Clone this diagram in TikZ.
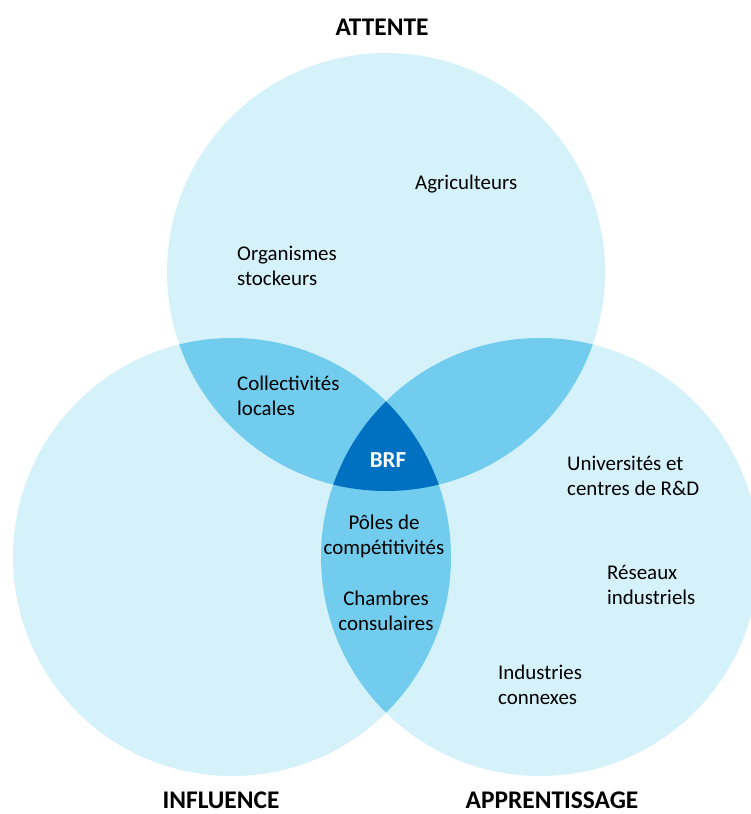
\documentclass[tikz,border=0pt]{standalone}
\usepackage{fontspec}
\setmainfont{Carlito}
\definecolor{lightb}{HTML}{D5F2FB}
\definecolor{midb}{HTML}{72CCEE}
\definecolor{darkb}{HTML}{0070C0}
\begin{document}
\begin{tikzpicture}[x=1bp,y=-1bp,
  lbl/.style={font=\fontsize{21}{25}\selectfont, align=left, inner sep=0pt, anchor=west},
  clbl/.style={font=\fontsize{21}{25}\selectfont, align=center, inner sep=0pt},
  title/.style={font=\bfseries\fontsize{25.5}{28}\selectfont, inner sep=0pt}]
\useasboundingbox (0,0) rectangle (751,814);
\coordinate (T) at (386,272);
\coordinate (L) at (232,557);
\coordinate (R) at (540,557);
\def\rr{219}
\begin{scope}
\clip (0,0) rectangle (751,814);
\fill[lightb] (T) circle[radius=\rr];
\fill[lightb] (L) circle[radius=\rr];
\fill[lightb] (R) circle[radius=\rr];
\begin{scope}\clip (T) circle[radius=\rr]; \fill[midb] (L) circle[radius=\rr]; \fill[midb] (R) circle[radius=\rr];\end{scope}
\begin{scope}\clip (L) circle[radius=\rr]; \fill[midb] (R) circle[radius=\rr];\end{scope}
\begin{scope}\clip (T) circle[radius=\rr]; \clip (L) circle[radius=\rr]; \fill[darkb] (R) circle[radius=\rr];\end{scope}
\end{scope}
\node[title] (att) at (382,27) {ATTENTE};
\node[title] (inf) at (221,800) {INFLUENCE};
\node[title] (app) at (552,800) {APPRENTISSAGE};
\node[lbl] (agr) at (415,184) {Agriculteurs};
\node[lbl] (org) at (237,266) {Organismes\\stockeurs};
\node[lbl] (col) at (237,396) {Collectivités\\locales};
\node[title, font=\bfseries\fontsize{23}{26}\selectfont, text=white] (brf) at (388,460) {BRF};
\node[clbl] (pol) at (384,536) {Pôles de\\compétitivités};
\node[clbl] (cha) at (386,611) {Chambres\\consulaires};
\node[lbl] (uni) at (567,476) {Universités et\\centres de R\&D};
\node[lbl] (res) at (607,585) {Réseaux\\industriels};
\node[lbl] (ind) at (498,685) {Industries\\connexes};
\end{tikzpicture}
\end{document}
